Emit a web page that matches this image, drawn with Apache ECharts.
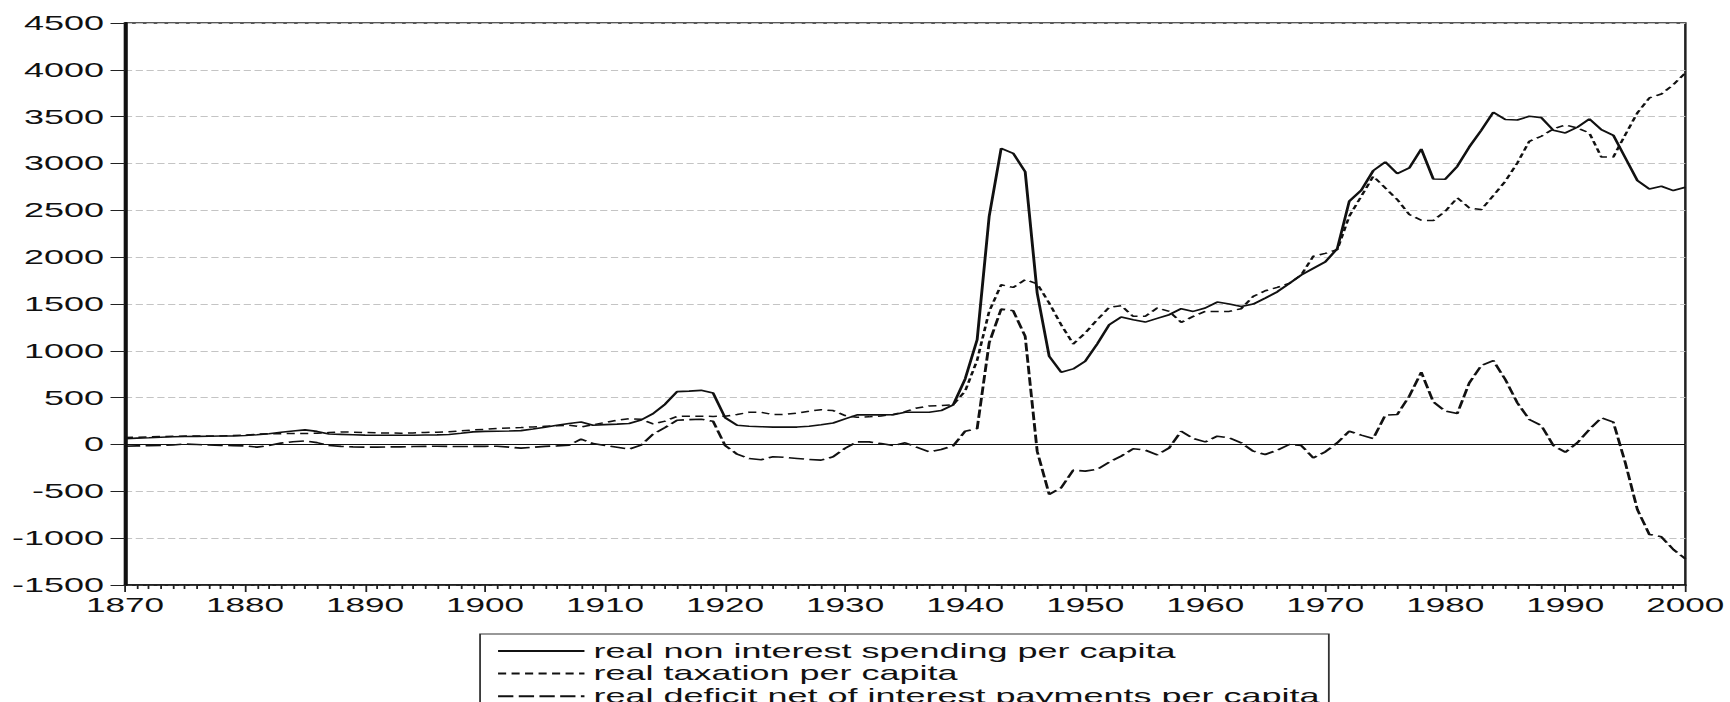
<!DOCTYPE html>
<html><head><meta charset="utf-8">
<script src="https://cdn.jsdelivr.net/npm/echarts@6/dist/echarts.min.js"></script>
<style>
html,body{margin:0;padding:0;background:#fff;overflow:hidden}
#wrap{width:1730px;height:702px;overflow:hidden;background:#fff}
#chart{width:961px;height:702px;transform:scaleX(1.8);transform-origin:0 0}
</style></head><body><div id="wrap"><div id="chart"></div></div>
<script>
const names = ['real non interest spending per capita','real taxation per capita','real deficit net of interest payments per capita'];
const years = Array.from({length:131},(_, i)=>1870+i);
const spending = [
62,68,72,78,82,85,87,88,90,92,
96,104,115,130,145,156,140,112,108,104,
100,99,98,98,99,101,103,106,120,135,
140,142,144,148,165,185,205,225,241,206,
212,218,225,262,330,430,564,570,578,550,
287,205,195,190,186,185,186,195,210,230,
273,316,316,316,318,345,345,344,362,422,
700,1120,2434,3162,3109,2913,1617,942,771,807,
888,1073,1279,1361,1332,1307,1347,1386,1450,1421,
1457,1521,1499,1474,1499,1563,1630,1720,1810,1880,
1950,2090,2597,2714,2924,3017,2892,2953,3155,2835,
2832,2970,3177,3355,3547,3469,3465,3504,3490,3355,
3326,3387,3476,3362,3301,3060,2818,2729,2757,2711,
2746];
const taxation = [
75,78,82,86,88,90,90,90,92,95,
100,110,115,115,118,118,120,128,134,132,
128,125,122,121,124,128,132,135,145,156,
162,170,176,181,188,195,200,206,188,210,
235,260,275,269,220,249,300,302,302,300,
301,320,344,344,319,322,335,355,372,362,
309,291,295,305,320,351,390,411,415,425,
570,900,1421,1705,1677,1759,1716,1510,1279,1073,
1190,1332,1464,1482,1368,1368,1457,1421,1304,1368,
1421,1421,1421,1450,1581,1641,1677,1720,1810,2010,
2040,2080,2437,2650,2864,2739,2615,2455,2394,2391,
2490,2633,2526,2508,2657,2810,3006,3237,3291,3369,
3412,3380,3326,3070,3070,3308,3540,3700,3742,3842,
3967];
const deficit = [
-18,-15,-12,-10,-5,5,0,-5,-10,-12,
-15,-28,-10,15,30,38,20,-10,-20,-25,
-28,-28,-26,-25,-22,-20,-18,-20,-22,-20,
-20,-18,-28,-39,-30,-20,-15,-7,57,10,
-10,-30,-50,-7,110,181,259,265,269,248,
-10,-103,-150,-163,-130,-138,-149,-160,-167,-131,
-40,28,28,10,-11,18,-30,-78,-53,-15,
142,170,1084,1446,1428,1155,-71,-533,-462,-274,
-284,-266,-188,-124,-46,-60,-110,-36,142,64,
28,89,71,18,-71,-107,-60,0,-11,-142,
-78,18,142,100,64,313,320,516,772,455,
356,331,658,843,896,694,445,267,203,-11,
-82,18,160,285,238,-196,-694,-960,-985,-1121,
-1220];

const FONT = '"Liberation Sans", Arial, sans-serif';
const pairs = arr => arr.map((v,i)=>[years[i], v]);
const chart = echarts.init(document.getElementById('chart'), null, {renderer:'svg'});
chart.setOption({
  animation:false,
  backgroundColor:'#fff',
  textStyle:{fontFamily:FONT},
  grid:{left:69.4, right:24.4, top:23, bottom:117, show:true, borderColor:'#222', borderWidth:1.4, backgroundColor:'transparent'},
  legend:{
    orient:'vertical', left:266.7, top:634, height:120, itemWidth:48, itemHeight:14, itemGap:2.6,
    padding:[7,5,6,9], borderColor:'#333', borderWidth:1, backgroundColor:'#fff',
    itemStyle:{color:'rgba(0,0,0,0)', borderColor:'rgba(0,0,0,0)', borderWidth:0, opacity:0},
    textStyle:{fontSize:20, lineHeight:14, color:'#111', fontFamily:FONT},
    data:names
  },
  xAxis:{
    type:'value', min:1870, max:2000, interval:10,
    axisLine:{onZero:false, lineStyle:{color:'#111', width:1.6}},
    axisTick:{show:true, length:7, lineStyle:{color:'#222', width:1}},
    minorTick:{show:true, splitNumber:10, length:4, lineStyle:{color:'#222', width:1}},
    axisLabel:{fontSize:19.5, color:'#111', margin:10, fontFamily:FONT, formatter:v=>String(v)},
    splitLine:{show:false}, minorSplitLine:{show:false}
  },
  yAxis:{
    type:'value', min:-1500, max:4500, interval:500,
    axisLine:{show:true, onZero:false, lineStyle:{color:'#111', width:2}},
    axisTick:{show:true, length:8, lineStyle:{color:'#222', width:1}},
    axisLabel:{fontSize:20, color:'#111', margin:11.6, fontFamily:FONT, formatter:v=>String(v)},
    splitLine:{show:true, lineStyle:{color:'#c4c4c4', type:[4,2], width:1}}
  },
  series:[
    {name:names[0], type:'line', data:pairs(spending), symbol:'none',
     lineStyle:{color:'#111', width:1.6, type:'solid'}, itemStyle:{color:'#111'}, z:3,
     markLine:{silent:true, symbol:'none', label:{show:false}, animation:false,
       lineStyle:{color:'#111', type:'solid', width:1}, data:[{yAxis:0}]}},
    {name:names[1], type:'line', data:pairs(taxation), symbol:'none',
     lineStyle:{color:'#111', width:1.5, type:[4.5,3]}, itemStyle:{color:'#111'}, z:3},
    {name:names[2], type:'line', data:pairs(deficit), symbol:'none',
     lineStyle:{color:'#111', width:1.6, type:[8.5,3]}, itemStyle:{color:'#111'}, z:3}
  ]
});
</script></body></html>
